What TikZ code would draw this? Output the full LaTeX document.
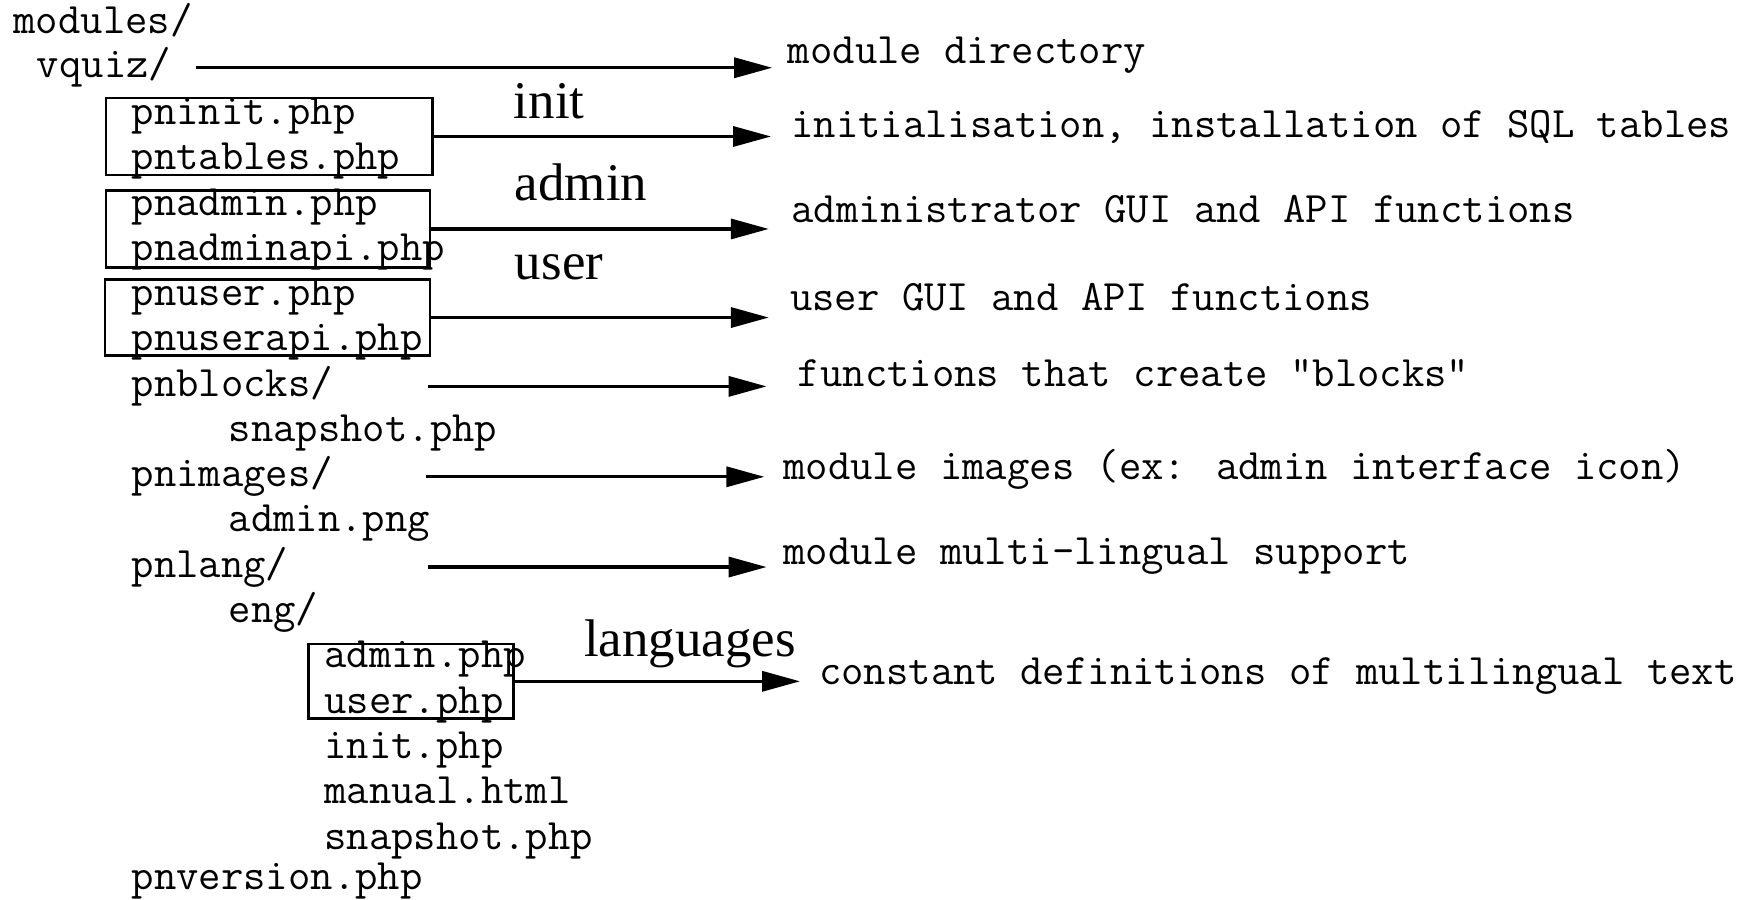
\documentclass[tikz,border=0pt]{standalone}
\usepackage{fontspec}
\newfontfamily\lblfont{Liberation Serif}
\usetikzlibrary{arrows.meta}
\begin{document}
\begin{tikzpicture}[x=1pt,y=-1pt,
  tt/.style={anchor=base west, inner sep=0pt, yshift=-2pt, font=\ttfamily\fontsize{39}{40}\selectfont},
  lbl/.style={anchor=base west, inner sep=0pt, font=\lblfont\fontsize{47.5}{50}\selectfont},
  filebox/.style={draw, line width=2.2pt, inner sep=0pt, rectangle},
  arr/.style={line width=2.8pt, -{Triangle[length=34pt,width=18pt]}}]
\useasboundingbox (0,0) rectangle (1568,807);
% tree
\node[tt] (modules) at (12,28) {modules/};
\node[tt] (vquiz) at (33,68) {vquiz/};
\node[tt] (pninit) at (118,110) {pninit.php};
\node[tt] (pntables) at (118,150) {pntables.php};
\node[tt] (pnadmin) at (118,191) {pnadmin.php};
\node[tt] (pnadminapi) at (118,232) {pnadminapi.php};
\node[tt] (pnuser) at (118,272) {pnuser.php};
\node[tt] (pnuserapi) at (118,313) {pnuserapi.php};
\node[tt] (pnblocks) at (118,354) {pnblocks/};
\node[tt] (snap1) at (205,394) {snapshot.php};
\node[tt] (pnimages) at (118,435) {pnimages/};
\node[tt] (adminpng) at (205,475) {admin.png};
\node[tt] (pnlang) at (118,516) {pnlang/};
\node[tt] (eng) at (205,557) {eng/};
\node[tt] (adminphp) at (291,597) {admin.php};
\node[tt] (userphp) at (291,638) {user.php};
\node[tt] (initphp) at (291,679) {init.php};
\node[tt] (manual) at (291,719) {manual.html};
\node[tt] (snap2) at (291,760) {snapshot.php};
\node[tt] (pnversion) at (118,796) {pnversion.php};
% boxes
\node[filebox, minimum width=293pt, minimum height=69pt] (b1) at (241.5,122.5) {};
\node[filebox, minimum width=291pt, minimum height=69pt] (b2) at (240.5,205.5) {};
\node[filebox, minimum width=292pt, minimum height=68pt] (b3) at (240,285) {};
\node[filebox, minimum width=184pt, minimum height=67pt] (b4) at (369,611.5) {};
% group labels
\node[lbl] (linit) at (461,106) {init};
\node[lbl] (ladmin) at (462,180) {admin};
\node[lbl] (luser) at (462,251) {user};
\node[lbl] (llang) at (524,589) {languages};
% descriptions
\node[tt] (dmod) at (707,55) {module directory};
\node[tt] (dinit) at (710,121) {initialisation, installation of SQL tables};
\node[tt] (dadmin) at (710,198) {administrator GUI and API functions};
\node[tt] (duser) at (709,277) {user GUI and API functions};
\node[tt] (dblocks) at (716,345) {functions that create "blocks"};
\node[tt] (dimages) at (703,428) {module images (ex: admin interface icon)};
\node[tt] (dlang) at (703,505) {module multi-lingual support};
\node[tt] (dconst) at (735,612) {constant definitions of multilingual text};
% arrows
\draw[arr, shorten <=22pt, shorten >=14pt] (vquiz.east) -- (vquiz.east -| dmod.west);
\draw[arr, shorten >=18pt] (b1.east) -- (b1.east -| dinit.west);
\draw[arr, shorten >=20pt] (b2.east) -- (b2.east -| dadmin.west);
\draw[arr, shorten >=19pt] (b3.east) -- (b3.east -| duser.west);
\draw[arr, shorten <=85pt, shorten >=28pt] (pnblocks.east) -- (pnblocks.east -| dblocks.west);
\draw[arr, shorten <=83pt, shorten >=17pt] (pnimages.east) -- (pnimages.east -| dimages.west);
\draw[arr, shorten <=125pt, shorten >=15pt] (pnlang.east) -- (pnlang.east -| dlang.west);
\draw[arr, shorten >=17pt] (b4.east) -- (b4.east -| dconst.west);
\end{tikzpicture}
\end{document}
